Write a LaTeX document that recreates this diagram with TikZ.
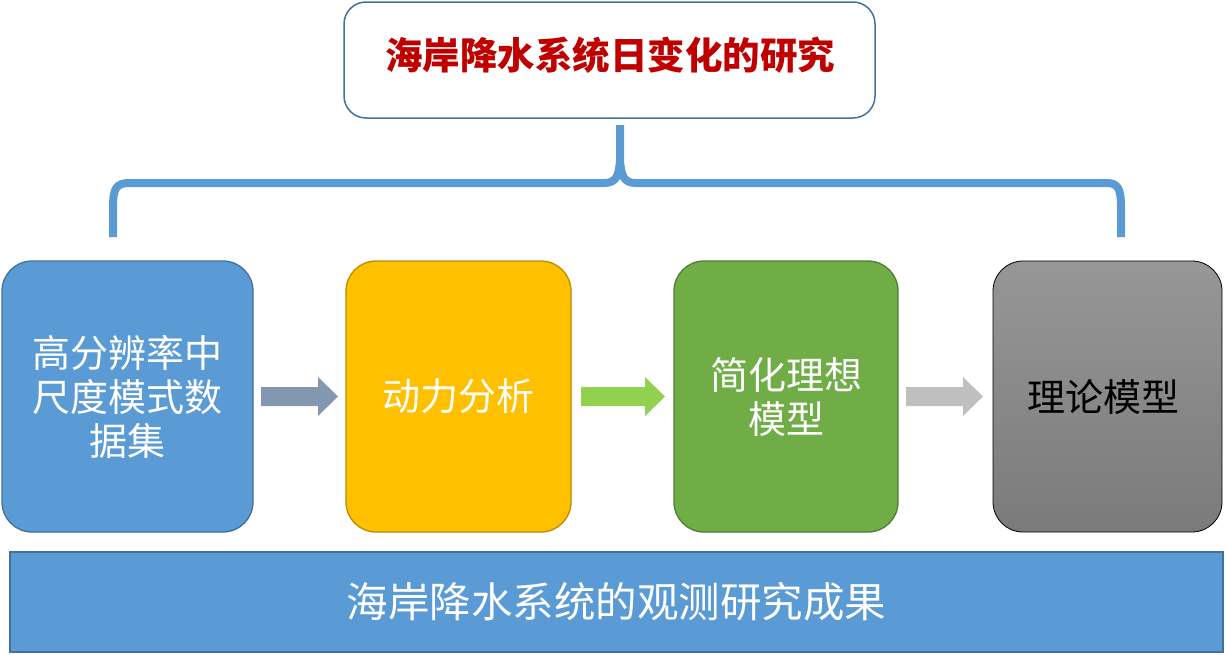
\documentclass[tikz,border=0pt]{standalone}
\usepackage{fontspec}
\newfontfamily\cjk{Noto Sans CJK SC}
\usetikzlibrary{positioning}
\definecolor{bluefill}{HTML}{5B9BD5}
\definecolor{blueline}{HTML}{41719C}
\definecolor{orangefill}{HTML}{FFC000}
\definecolor{orangeline}{HTML}{BC8C00}
\definecolor{greenfill}{HTML}{70AD47}
\definecolor{greenline}{HTML}{507E32}
\definecolor{titlered}{HTML}{C00000}
\definecolor{arrowA}{HTML}{8497B0}
\definecolor{arrowB}{HTML}{92D050}
\definecolor{arrowC}{HTML}{BFBFBF}
\tikzset{
  stagebox/.style={rounded corners=30pt, line width=1.3pt, minimum height=271pt, inner sep=0pt, align=center,
    font=\cjk\fontsize{38}{44}\selectfont, text=white},
  bracestyle/.style={draw=bluefill, line width=8pt, line join=round},
}
\begin{document}
\begin{tikzpicture}[x=1pt,y=-1pt]
\useasboundingbox (0,0) rectangle (1226,654);
% title
\node[draw=blueline, line width=1.5pt, fill=white, rounded corners=22pt, minimum width=531pt, minimum height=116pt, inner sep=0pt] (title) at (609.5,60) {};
\node[font=\cjk\bfseries\fontsize{37.5}{40}\selectfont, text=titlered, inner sep=0pt] (titletext) at (610,55) {海岸降水系统日变化的研究};
% brace
\draw[bracestyle] (113,237) -- (113,208) .. controls (113,188) and (116,183) .. (130,183) -- (604,183)
  .. controls (616,183) and (619,176) .. (620,160) -- (620,125);
\draw[bracestyle] (620,160) .. controls (621,176) and (624,183) .. (636,183) -- (1106,183)
  .. controls (1118,183) and (1121,188) .. (1121,208) -- (1121,237);
% stage boxes
\node[stagebox, fill=bluefill, draw=blueline, minimum width=251pt] (b1) at (127.5,396.5) {高分辨率中\\尺度模式数\\据集};
\node[stagebox, fill=orangefill, draw=orangeline, minimum width=225pt] (b2) at (458.5,396.5) {动力分析};
\node[stagebox, fill=greenfill, draw=greenline, minimum width=224pt] (b3) at (786,396.5) {简化理想\\模型};
\node[stagebox, top color=black!41, bottom color=black!52, draw=black, line width=0.8pt, minimum width=229pt] (b4) at (1107.5,396.5) {};
\node[font=\cjk\fontsize{38}{44}\selectfont, text=black, inner sep=0pt] (b4text) at (1103,397) {理论模型};
% block arrows
\fill[arrowA] (261,387) -- (318,387) -- (318,377) -- (338,396.5) -- (318,416) -- (318,406) -- (261,406) -- cycle;
\fill[arrowB] (581,387) -- (645,387) -- (645,377) -- (665,396.5) -- (645,416) -- (645,406) -- (581,406) -- cycle;
\fill[arrowC] (906,387) -- (963,387) -- (963,377) -- (983,396.5) -- (963,416) -- (963,406) -- (906,406) -- cycle;
% bottom bar
\node[draw=blueline, line width=2pt, fill=bluefill, minimum width=1213pt, minimum height=100pt, inner sep=0pt,
  font=\cjk\fontsize{41.5}{44}\selectfont, text=white] (bar) at (616.5,602) {海岸降水系统的观测研究成果};
\end{tikzpicture}
\end{document}
